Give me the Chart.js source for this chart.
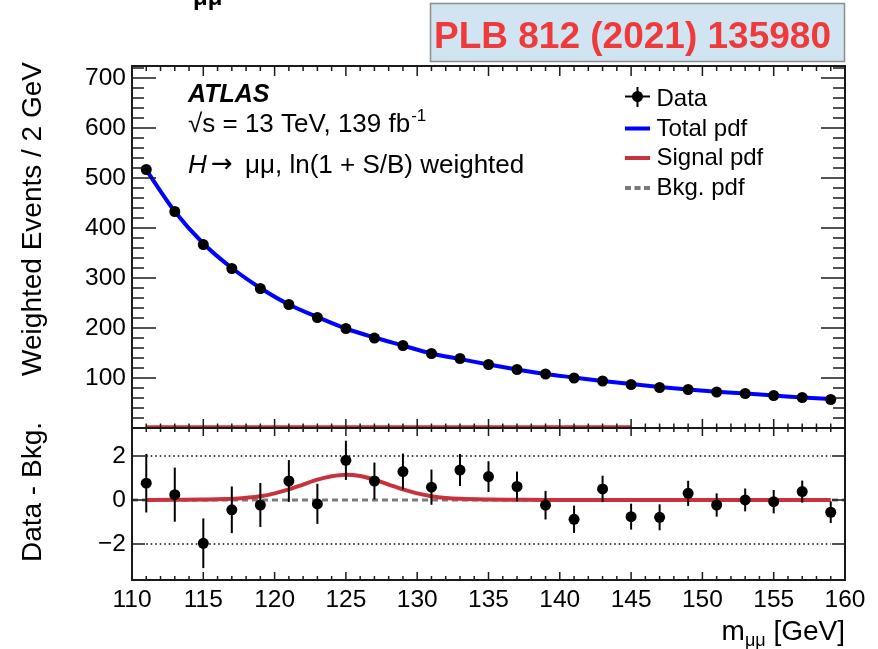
<!DOCTYPE html>
<html>
<head>
<meta charset="utf-8">
<script src="https://cdn.jsdelivr.net/npm/chart.js@4.4.1/dist/chart.umd.min.js"></script>
<style>
  html, body { margin: 0; padding: 0; background: #fff; }
  #wrap { position: relative; width: 878px; height: 649px; }
</style>
</head>
<body>
<div id="wrap"><canvas id="fit" width="878" height="649"></canvas></div>
<script>
const FONT = '"Liberation Sans", Arial, Helvetica, sans-serif';
const RED = '#c8323c';

// 2 GeV bins, centres in GeV
const MASS = [111, 113, 115, 117, 119, 121, 123, 125, 127, 129, 131, 133, 135,
              137, 139, 141, 143, 145, 147, 149, 151, 153, 155, 157, 159];
const EVENTS = [517, 433, 367, 319, 279, 247, 221, 199, 180, 165, 149, 139, 127,
                117, 108, 100, 94, 87, 81, 77, 72, 69, 65, 61, 57];
const TOTAL_PDF = [516, 433, 369, 320, 280, 247, 222, 199, 181, 165, 149, 138, 127,
                   117, 108, 101, 94, 88, 82, 77, 72.5, 69, 65, 61, 58];
// data minus background fit, with its uncertainty
const RESID = [0.76, 0.24, -1.97, -0.45, -0.23, 0.86, -0.18, 1.80, 0.86, 1.29, 0.58, 1.36, 1.06,
               0.61, -0.24, -0.88, 0.50, -0.76, -0.79, 0.30, -0.23, 0.00, -0.08, 0.38, -0.56];
const RESID_ERR = [1.33, 1.23, 1.13, 1.06, 1.00, 0.95, 0.91, 0.89, 0.84, 0.82, 0.80, 0.73, 0.70,
                   0.68, 0.65, 0.62, 0.60, 0.59, 0.59, 0.57, 0.53, 0.52, 0.53, 0.50, 0.49];

// signal shape in the ratio panel
const SIG_MASS = [111, 113, 115, 117, 118, 119, 120, 121, 122, 123, 124, 125, 126,
                  127, 128, 129, 130, 131, 132, 133, 135, 137, 139, 159];
const SIG_PDF = [0, 0.01, 0.02, 0.05, 0.10, 0.17, 0.30, 0.48, 0.70, 0.92, 1.08, 1.15, 1.09,
                 0.92, 0.70, 0.48, 0.30, 0.17, 0.09, 0.05, 0.02, 0.01, 0, 0];
// signal shape in the event panel (sits on the axis)
const SIG_TOP_MASS = [111, 145];
const SIG_TOP = [2.5, 2.5];
const BKG_MASS = [110, 160];
const BKG_RESID = [0, 0];

const X_TICKS = [110, 115, 120, 125, 130, 135, 140, 145, 150, 155, 160];
const TOP_Y_TICKS = [100, 200, 300, 400, 500, 600, 700];
const LOW_Y_TICKS = [-2, 0, 2];
const LOW_Y_LABELS = ['\u22122', '0', '2'];
const REF_LINES = [2, -2];

const pts = (xs, ys) => xs.map((x, i) => ({ x, y: ys[i] }));

// vertical error bars under the markers
const errorBars = {
  id: 'errorBars',
  beforeDatasetDraw(chart, args) {
    const ds = chart.data.datasets[args.index];
    if (!ds.errors) return;
    const ctx = chart.ctx;
    const ys = chart.scales[ds.yAxisID];
    ctx.save();
    ctx.strokeStyle = '#000';
    ctx.lineWidth = 2;
    args.meta.data.forEach((p, i) => {
      const v = ds.data[i].y, e = ds.errors[i];
      ctx.beginPath();
      ctx.moveTo(p.x, ys.getPixelForValue(v + e));
      ctx.lineTo(p.x, ys.getPixelForValue(v - e));
      ctx.stroke();
    });
    ctx.restore();
  }
};

// ROOT-style frame with inward ticks
const frame = {
  id: 'frame',
  beforeDatasetsDraw(chart) {
    const { ctx, scales: { x, yr } } = chart;
    ctx.save();
    ctx.strokeStyle = '#000';
    ctx.lineWidth = 1.5;
    ctx.setLineDash([1.5, 3]);
    REF_LINES.forEach(v => {
      const py = yr.getPixelForValue(v);
      ctx.beginPath();
      ctx.moveTo(x.getPixelForValue(111), py);
      ctx.lineTo(x.getPixelForValue(159), py);
      ctx.stroke();
    });
    ctx.restore();
  },
  afterDatasetsDraw(chart) {
    const { ctx, chartArea: a, scales: { x, y, yr } } = chart;
    const mid = y.bottom;
    ctx.save();
    ctx.strokeStyle = '#1a1a1a';
    ctx.lineWidth = 1.5;
    ctx.beginPath();
    const xRow = (py, dir, major, minor) => {
      for (let m = 110; m <= 160; m++) {
        const px = x.getPixelForValue(m);
        ctx.moveTo(px, py);
        ctx.lineTo(px, py + dir * (m % 5 === 0 ? major : minor));
      }
    };
    xRow(a.top, 1, 10, 5);
    xRow(mid, -1, 9, 4.5);
    xRow(mid, 1, 8, 4);
    xRow(a.bottom, -1, 8, 4);
    for (let v = 20; v <= 720; v += 20) {
      const py = y.getPixelForValue(v);
      const len = v % 100 === 0 ? 24 : 12;
      ctx.moveTo(a.left, py); ctx.lineTo(a.left + len, py);
      ctx.moveTo(a.right, py); ctx.lineTo(a.right - len, py);
    }
    LOW_Y_TICKS.forEach(v => {
      const py = yr.getPixelForValue(v);
      ctx.moveTo(a.left, py); ctx.lineTo(a.left + 13, py);
      ctx.moveTo(a.right, py); ctx.lineTo(a.right - 13, py);
    });
    ctx.stroke();
    ctx.lineWidth = 2;
    ctx.strokeRect(a.left, a.top, a.right - a.left, a.bottom - a.top);
    ctx.beginPath();
    ctx.moveTo(a.left, mid); ctx.lineTo(a.right, mid);
    ctx.stroke();
    ctx.restore();
  }
};

// titles, legend and captions
const captions = {
  id: 'captions',
  afterDraw(chart) {
    const ctx = chart.ctx;
    ctx.save();
    ctx.fillStyle = '#000';
    ctx.textBaseline = 'alphabetic';

    ctx.font = 'bold 24px ' + FONT;
    ctx.fillText('\u03bc\u03bc', 193, 5);

    ctx.fillStyle = '#d0e4f1';
    ctx.fillRect(430.5, 3.5, 414, 58);
    ctx.strokeStyle = '#8c8c8c';
    ctx.lineWidth = 1.5;
    ctx.strokeRect(430.5, 3.5, 414, 58);
    ctx.fillStyle = '#ee3a3a';
    ctx.font = 'bold 37px ' + FONT;
    ctx.fillText('PLB 812 (2021) 135980', 434, 48);

    ctx.fillStyle = '#000';
    ctx.font = 'italic bold 25px ' + FONT;
    ctx.fillText('ATLAS', 188, 102);

    ctx.font = '26px ' + FONT;
    const s1 = '\u221as = 13 TeV, 139 fb';
    ctx.fillText(s1, 188, 131.5);
    const w1 = ctx.measureText(s1).width;
    ctx.font = '17px ' + FONT;
    ctx.fillText('-1', 188 + w1 + 1, 121);

    ctx.font = 'italic 26px ' + FONT;
    ctx.fillText('H', 188, 173);
    ctx.font = '26px "DejaVu Sans", sans-serif';
    ctx.fillText('\u2192', 211, 172);
    ctx.font = '26px ' + FONT;
    ctx.fillText('\u03bc\u03bc, ln(1 + S/B) weighted', 245, 173);

    // legend
    const lx = 625, tx = 656.5;
    ctx.font = '24px ' + FONT;
    ['Data', 'Total pdf', 'Signal pdf', 'Bkg. pdf'].forEach((t, i) => ctx.fillText(t, tx, 106 + i * 29.5));
    ctx.strokeStyle = '#000';
    ctx.lineWidth = 2;
    ctx.beginPath();
    ctx.moveTo(lx, 96.5); ctx.lineTo(lx + 25, 96.5);
    ctx.moveTo(lx + 12.5, 87); ctx.lineTo(lx + 12.5, 107);
    ctx.stroke();
    ctx.beginPath();
    ctx.arc(lx + 12.5, 96.5, 5.5, 0, Math.PI * 2);
    ctx.fill();
    ctx.lineWidth = 4;
    [['#0000ff', 128.5, []], [RED, 158, []], ['#7a7a7a', 188, [6, 3.5]]].forEach(([c, py, dash]) => {
      ctx.strokeStyle = c;
      ctx.setLineDash(dash);
      ctx.beginPath();
      ctx.moveTo(lx, py); ctx.lineTo(lx + 25, py);
      ctx.stroke();
    });
    ctx.setLineDash([]);

    // axis titles
    ctx.font = '28px ' + FONT;
    ctx.textAlign = 'right';
    ctx.save();
    ctx.translate(40.5, 62);
    ctx.rotate(-Math.PI / 2);
    ctx.fillText('Weighted Events / 2 GeV', 0, 0);
    ctx.restore();
    ctx.save();
    ctx.translate(40.5, 422);
    ctx.rotate(-Math.PI / 2);
    ctx.fillText('Data - Bkg.', 0, 0);
    ctx.restore();

    ctx.textAlign = 'left';
    const unit = ' [GeV]';
    const wu = ctx.measureText(unit).width;
    ctx.font = '18px ' + FONT;
    const ws = ctx.measureText('\u03bc\u03bc').width;
    ctx.font = '28px ' + FONT;
    const wm = ctx.measureText('m').width;
    const x0 = 845 - wu - ws - wm;
    ctx.fillText('m', x0, 640);
    ctx.fillText(unit, x0 + wm + ws, 640);
    ctx.font = '18px ' + FONT;
    ctx.fillText('\u03bc\u03bc', x0 + wm, 646);
    ctx.restore();
  }
};

const tickFont = { family: FONT, size: 24.5 };

new Chart(document.getElementById('fit'), {
  type: 'scatter',
  data: {
    datasets: [
      { label: 'Data', data: pts(MASS, EVENTS), errors: RESID_ERR, yAxisID: 'y',
        pointRadius: 5.5, backgroundColor: '#000', borderWidth: 0 },
      { label: 'Data - Bkg.', data: pts(MASS, RESID), errors: RESID_ERR, yAxisID: 'yr',
        pointRadius: 5.5, backgroundColor: '#000', borderWidth: 0 },
      { label: 'Total pdf', type: 'line', data: pts(MASS, TOTAL_PDF), yAxisID: 'y',
        borderColor: '#0000ff', borderWidth: 4, pointRadius: 0, cubicInterpolationMode: 'monotone' },
      { label: 'Signal pdf', type: 'line', data: pts(SIG_TOP_MASS, SIG_TOP), yAxisID: 'y',
        borderColor: RED, borderWidth: 3, pointRadius: 0 },
      { label: 'Signal pdf', type: 'line', data: pts(SIG_MASS, SIG_PDF), yAxisID: 'yr',
        borderColor: RED, borderWidth: 4, pointRadius: 0, cubicInterpolationMode: 'monotone' },
      { label: 'Bkg. pdf', type: 'line', data: pts(BKG_MASS, BKG_RESID), yAxisID: 'yr',
        borderColor: '#7a7a7a', borderWidth: 3, borderDash: [6, 4], pointRadius: 0 }
    ]
  },
  options: {
    responsive: false,
    animation: false,
    devicePixelRatio: 1,
    layout: { padding: { top: 66, right: 33, left: 0, bottom: 0 } },
    plugins: { legend: { display: false }, tooltip: { enabled: false } },
    scales: {
      x: {
        type: 'linear', position: 'bottom', min: 110, max: 160,
        grid: { display: false, drawTicks: false }, border: { display: false },
        ticks: { font: tickFont, color: '#000', padding: 6, maxRotation: 0, autoSkip: false },
        afterBuildTicks: s => { s.ticks = X_TICKS.map(v => ({ value: v })); },
        afterFit: s => { s.height = 69; }
      },
      yr: {
        type: 'linear', position: 'left', stack: 'panels', stackWeight: 152,
        min: -3.64, max: 3.27,
        grid: { display: false, drawTicks: false }, border: { display: false },
        ticks: { font: tickFont, color: '#000', padding: 6, autoSkip: false,
                 callback: v => LOW_Y_LABELS[LOW_Y_TICKS.indexOf(v)] },
        afterBuildTicks: s => { s.ticks = LOW_Y_TICKS.map(v => ({ value: v })); },
        afterFit: s => { s.width = 132; }
      },
      y: {
        type: 'linear', position: 'left', stack: 'panels', stackWeight: 362,
        min: 0, max: 724,
        grid: { display: false, drawTicks: false }, border: { display: false },
        ticks: { font: tickFont, color: '#000', padding: 6, autoSkip: false },
        afterBuildTicks: s => { s.ticks = TOP_Y_TICKS.map(v => ({ value: v })); },
        afterFit: s => { s.width = 132; }
      }
    }
  },
  plugins: [errorBars, frame, captions]
});
</script>
</body>
</html>
